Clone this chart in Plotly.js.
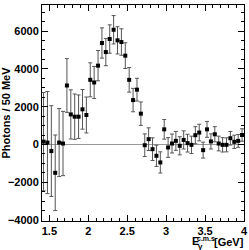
<!DOCTYPE html>
<html><head><meta charset="utf-8">
<script src="https://cdn.plot.ly/plotly-3.0.1.min.js"></script>
<style>html,body{margin:0;padding:0;background:#fff}#c{width:249px;height:250px}</style>
</head><body><div id="c"></div>
<script>
const energy = [1.425,1.475,1.525,1.575,1.625,1.675,1.725,1.775,1.825,1.875,1.925,1.975,
2.025,2.075,2.125,2.175,2.225,2.275,2.325,2.375,2.425,2.475,2.525,2.575,2.625,2.675,
2.725,2.775,2.825,2.875,2.925,2.975,3.025,3.075,3.125,3.175,3.225,3.275,3.325,3.375,
3.425,3.475,3.525,3.575,3.625,3.675,3.725,3.775,3.825,3.875,3.925,3.975];
const photons = [150,100,-350,-1500,100,50,3120,1590,1470,1470,1860,1560,
3420,3280,4170,5370,4890,5580,6070,5510,5420,4700,3420,2350,2900,1630,
-40,280,-250,-600,-950,800,-160,50,190,-70,240,70,-20,490,
630,-300,800,160,540,50,-20,-20,330,140,190,500];
const errors = [2600,2700,2400,2000,1800,1700,1420,1300,1200,1150,1050,950,
900,850,800,800,720,750,750,720,700,680,650,620,600,620,
600,600,600,560,560,520,520,500,500,480,480,470,460,450,
440,420,420,400,400,390,380,370,360,350,340,330];

const trace = {
  x: energy, y: photons, type: 'scatter', mode: 'markers',
  marker: {symbol: 'square', size: 4, color: '#000'},
  error_y: {type: 'data', array: errors, visible: true, color: '#555', thickness: 1, width: 2},
  hoverinfo: 'none'
};
const fnt = {family: 'Liberation Sans, Arial, sans-serif', size: 11, color: '#000', weight: 'bold'};
const small = {family: 'Liberation Sans, Arial, sans-serif', size: 7, color: '#000', weight: 'bold'};
const ann = (text, x, y, font, xa) => ({xref: 'paper', yref: 'paper', x: x, y: y,
  xanchor: xa || 'center', yanchor: 'middle', text: text, showarrow: false, font: font});
const layout = {
  width: 249, height: 250,
  margin: {l: 42, r: 5, t: 5, b: 29},
  paper_bgcolor: '#fff', plot_bgcolor: '#fff',
  showlegend: false,
  xaxis: {
    range: [1.405, 4.0], tickvals: [1.5,2,2.5,3,3.5,4], ticktext: ['1.5','2','2.5','3','3.5','4'],
    ticks: 'inside', ticklen: 6, tickcolor: '#000', showgrid: false, zeroline: false,
    showline: true, linecolor: '#000', linewidth: 1, mirror: 'allticks',
    minor: {dtick: 0.1, tick0: 1.4, ticks: 'inside', ticklen: 3, tickcolor: '#000', showgrid: false},
    tickfont: fnt
  },
  yaxis: {
    range: [-4050, 7380], tickvals: [-4000,-2000,0,2000,4000,6000],
    ticks: 'inside', ticklen: 6, tickcolor: '#000', showgrid: false,
    zeroline: true, zerolinecolor: '#999', zerolinewidth: 1,
    showline: true, linecolor: '#000', linewidth: 1, mirror: 'allticks',
    minor: {dtick: 500, tick0: 0, ticks: 'inside', ticklen: 3, tickcolor: '#000', showgrid: false},
    tickfont: fnt,
    title: {text: 'Photons / 50 MeV', font: fnt, standoff: 4}
  },
  annotations: [
    ann('E', 0.762, -0.093, fnt),
    ann('γ', 0.787, -0.118, {family: 'Liberation Sans, Arial, sans-serif', size: 8, color: '#000', weight: 'bold'}),
    ann('c.m.s', 0.812, -0.082, small),
    ann('[GeV]', 1.012, -0.096, fnt, 'right')
  ]
};
Plotly.newPlot('c', [trace], layout, {staticPlot: true, displayModeBar: false});
</script></body></html>
